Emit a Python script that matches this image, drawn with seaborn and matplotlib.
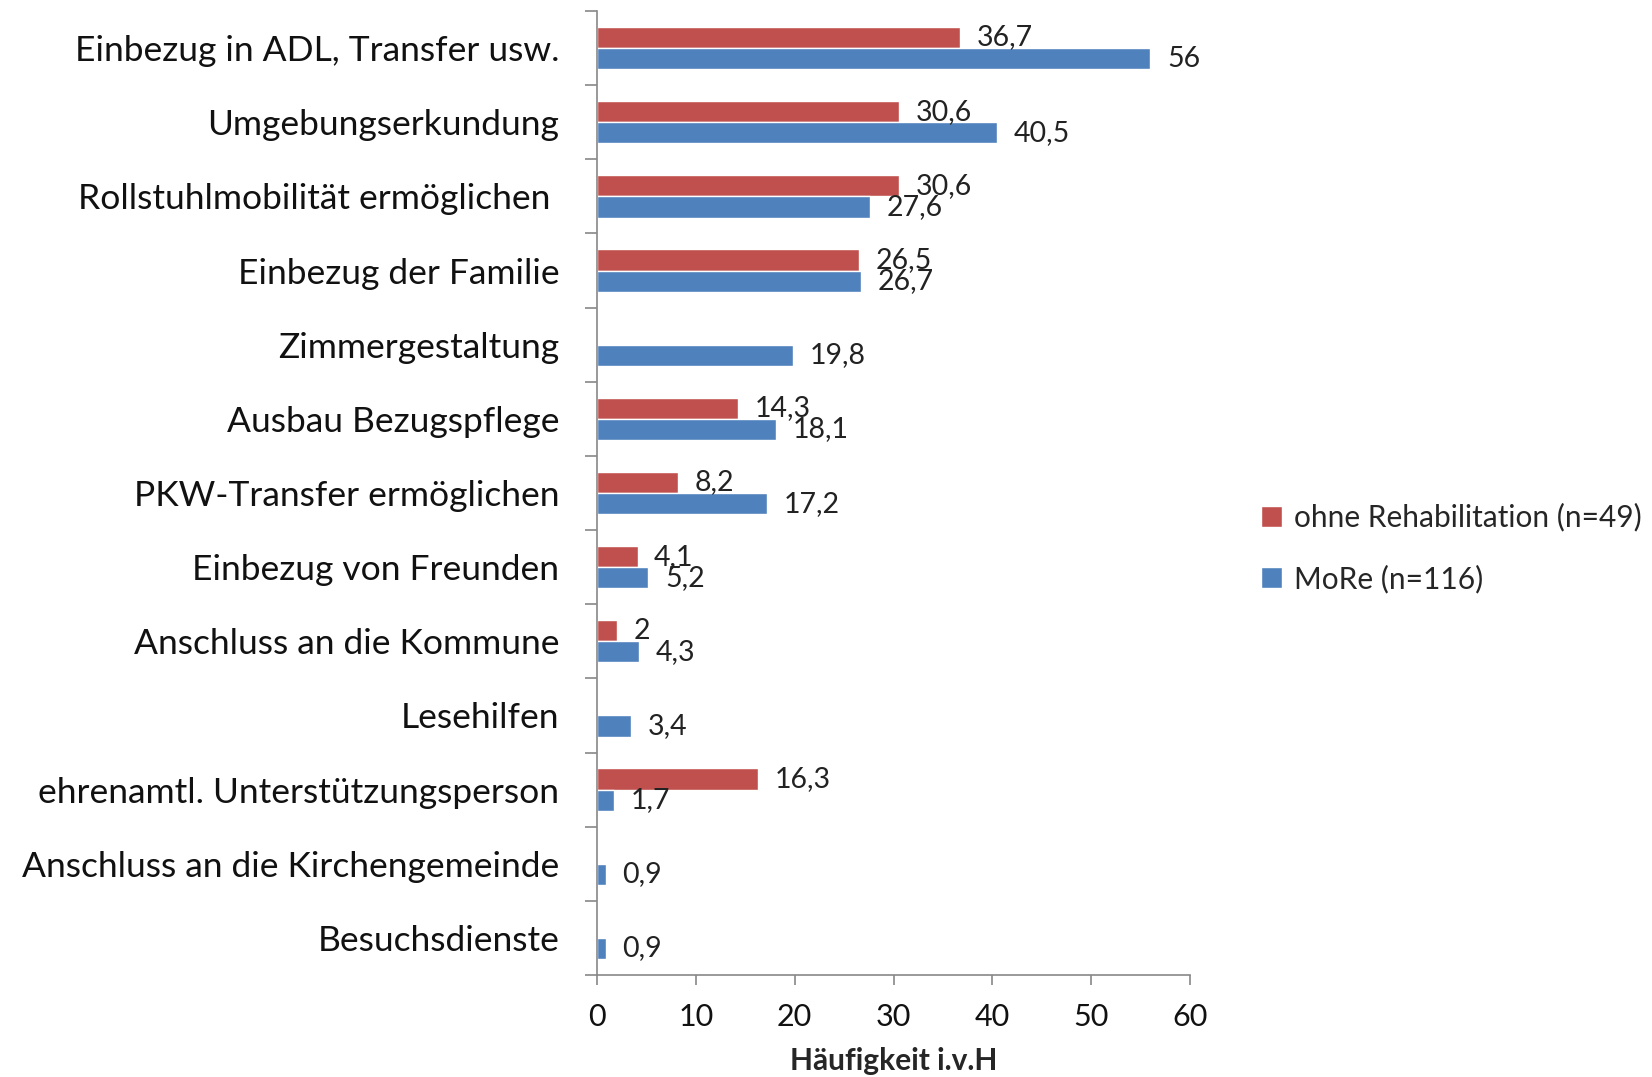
import pandas as pd
import numpy as np
import matplotlib
matplotlib.use('Agg')
import matplotlib.pyplot as plt
import seaborn as sns

# Chart data
categories = ['Einbezug in ADL, Transfer usw.', 'Umgebungserkundung',
              'Rollstuhlmobilität ermöglichen ', 'Einbezug der Familie',
              'Zimmergestaltung', 'Ausbau Bezugspflege', 'PKW-Transfer ermöglichen',
              'Einbezug von Freunden', 'Anschluss an die Kommune', 'Lesehilfen',
              'ehrenamtl. Unterstützungsperson', 'Anschluss an die Kirchengemeinde',
              'Besuchsdienste']
ohne_reha = [36.7, 30.6, 30.6, 26.5, np.nan, 14.3, 8.2, 4.1, 2, np.nan, 16.3, np.nan, np.nan]
more = [56, 40.5, 27.6, 26.7, 19.8, 18.1, 17.2, 5.2, 4.3, 3.4, 1.7, 0.9, 0.9]
groups = ['ohne Rehabilitation (n=49)', 'MoRe (n=116)']
colors = ['#C0504D', '#4F81BD']

# Long format for seaborn
data = pd.DataFrame({
    'Kategorie': categories * 2,
    'Gruppe': [groups[0]] * len(categories) + [groups[1]] * len(categories),
    'Wert': ohne_reha + more,
}).dropna()

sns.set_style('white')
plt.rcParams['font.family'] = ['Lato', 'DejaVu Sans']

fig = plt.figure(figsize=(16.52, 10.77), dpi=100)
ax = fig.add_axes([597 / 1652, 1 - 975 / 1077, 593 / 1652, 964 / 1077])

sns.barplot(data=data, y='Kategorie', x='Wert', hue='Gruppe', order=categories,
            hue_order=groups, palette=colors, orient='h', width=0.57,
            errorbar=None, saturation=1, ax=ax)

# Value labels with German decimal comma
for container in ax.containers:
    ax.bar_label(container, fmt=lambda v: f'{v:g}'.replace('.', ','),
                 padding=12, fontsize=20.5, color='#222222')

ax.set_xlim(0, 60)
ax.set_ylim(len(categories) - 0.5, -0.5)
ax.set_xticks(range(0, 61, 10))
ax.set_xlabel('Häufigkeit i.v.H', fontsize=21.5, fontweight='bold', labelpad=12)
ax.set_ylabel('')

# Axes styling like the original chart
for side in ['top', 'right']:
    ax.spines[side].set_visible(False)
for side in ['left', 'bottom']:
    ax.spines[side].set_color('#888888')
    ax.spines[side].set_linewidth(1.2)

ax.set_yticks(np.arange(-0.5, len(categories), 1), minor=True)
ax.tick_params(axis='y', which='major', length=0, pad=27, labelsize=25.5, labelcolor='#111111')
ax.tick_params(axis='y', which='minor', length=9, width=1.2, color='#888888', left=True)
ax.tick_params(axis='x', which='major', length=7, width=1.2, color='#888888', bottom=True,
               pad=13, labelsize=22, labelcolor='#111111')

# Legend on the right
handles, labels = ax.get_legend_handles_labels()
ax.legend(handles, labels, loc='center left', frameon=False,
          bbox_to_anchor=(1261 / 1652, 1 - 548 / 1077), bbox_transform=fig.transFigure,
          borderaxespad=0, borderpad=0,
          fontsize=21.5, handlelength=0.7, handleheight=0.7, handletextpad=0.4,
          labelspacing=1.1)

fig.savefig('out.png', dpi=100)
